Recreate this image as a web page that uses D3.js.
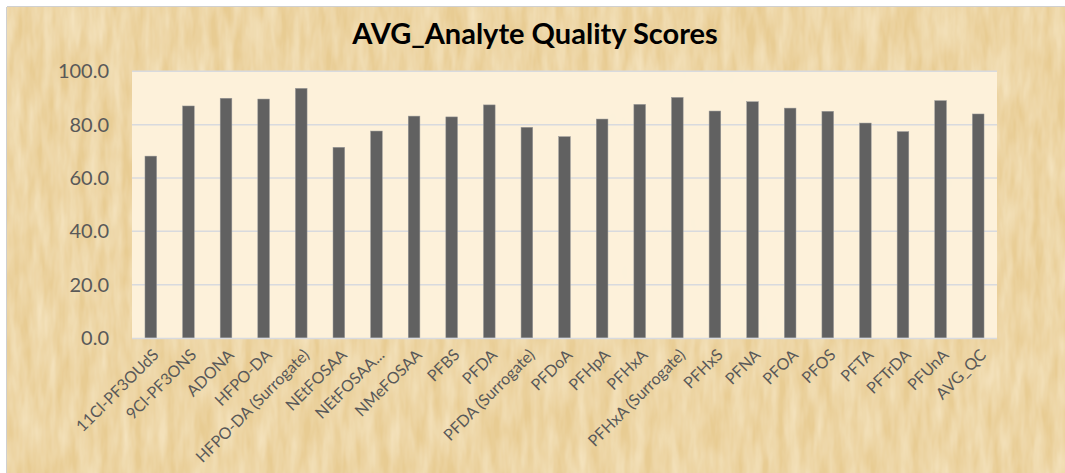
<!DOCTYPE html>
<html><head><meta charset="utf-8">
<script src="https://cdn.jsdelivr.net/npm/d3@7"></script>
<style>body{margin:0;background:#fff;}svg{display:block;}</style>
</head><body>
<script>
const categories = ["11Cl-PF3OUdS","9Cl-PF3ONS","ADONA","HFPO-DA","HFPO-DA (Surrogate)","NEtFOSAA","NEtFOSAA...","NMeFOSAA","PFBS","PFDA","PFDA (Surrogate)","PFDoA","PFHpA","PFHxA","PFHxA (Surrogate)","PFHxS","PFNA","PFOA","PFOS","PFTA","PFTrDA","PFUnA","AVG_QC"];
const scores = [68.2,87.0,89.9,89.6,93.6,71.5,77.6,83.2,82.9,87.4,79.0,75.5,82.1,87.6,90.2,85.1,88.6,86.2,85.0,80.6,77.4,89.0,84.0];
const yTicks = [0,20,40,60,80,100];
const title = "AVG_Analyte Quality Scores";

const W = 1065, H = 473;
const m = {left:132, right:68, top:71.3, bottom:135};
const svg = d3.select("body").append("svg").attr("width",W).attr("height",H);
const defs = svg.append("defs");

const f = defs.append("filter").attr("id","papyrus").attr("x",0).attr("y",0).attr("width","100%").attr("height","100%");
f.append("feTurbulence").attr("type","fractalNoise").attr("baseFrequency","0.09 0.02").attr("numOctaves",3).attr("seed",4).attr("result","n");
f.append("feColorMatrix").attr("in","n").attr("type","matrix")
 .attr("values","0 0 0 0 0.94  0 0 0 0 0.82  0 0 0 0 0.58  0 0 0 -1.1 0.85").attr("result","c");
f.append("feComposite").attr("in","c").attr("in2","SourceGraphic").attr("operator","over");

const f2 = defs.append("filter").attr("id","paper").attr("x",0).attr("y",0).attr("width","100%").attr("height","100%");
f2.append("feTurbulence").attr("type","fractalNoise").attr("baseFrequency","0.05 0.02").attr("numOctaves",2).attr("seed",9).attr("result","n");
f2.append("feColorMatrix").attr("in","n").attr("type","matrix")
 .attr("values","0 0 0 0 0.97  0 0 0 0 0.88  0 0 0 0 0.70  0 0 0 -0.7 0.45").attr("result","c");
f2.append("feComposite").attr("in","c").attr("in2","SourceGraphic").attr("operator","over");

// outer chart area
svg.append("rect").attr("x",7).attr("y",7).attr("width",W-7).attr("height",H-7)
  .attr("fill","#e8cc93").attr("filter","url(#papyrus)");
svg.append("line").attr("x1",6.5).attr("x2",6.5).attr("y1",7).attr("y2",H).attr("stroke","#d0d0d0");
svg.append("line").attr("x1",7).attr("x2",W).attr("y1",6.5).attr("y2",6.5).attr("stroke","#d0d0d0");

const x = d3.scaleBand().domain(categories).range([m.left, W-m.right]).paddingInner(0.69).paddingOuter(0.345);
const y = d3.scaleLinear().domain([0,100]).range([H-m.bottom, m.top]);

// plot area
svg.append("rect").attr("x",m.left).attr("y",y(100)).attr("width",W-m.right-m.left).attr("height",y(0)-y(100))
  .attr("fill","#fdf1da").attr("filter","url(#paper)");

// gridlines
svg.append("g").selectAll("line").data(yTicks.filter(d=>d>0)).join("line")
  .attr("x1",m.left).attr("x2",W-m.right).attr("y1",d=>y(d)).attr("y2",d=>y(d))
  .attr("stroke","#d8dade").attr("stroke-width",1.5);

// bars
svg.append("g").selectAll("rect").data(scores).join("rect")
  .attr("x",(d,i)=>x(categories[i])).attr("width",x.bandwidth())
  .attr("y",d=>y(d)).attr("height",d=>y(0)-y(d))
  .attr("fill","#616161").attr("stroke","#9a9a9a").attr("stroke-width",0.5);

// x axis line
svg.append("line").attr("x1",m.left).attr("x2",W-m.right).attr("y1",y(0)+0.5).attr("y2",y(0)+0.5)
  .attr("stroke","#d8dade").attr("stroke-width",1.5);

// y axis
const ya = svg.append("g").attr("transform",`translate(${m.left},0)`)
  .call(d3.axisLeft(y).tickValues(yTicks).tickFormat(d3.format(".1f")).tickSize(0).tickPadding(23));
ya.select(".domain").remove();
ya.selectAll("text").attr("fill","#595959").attr("font-family","Lato, 'Open Sans', sans-serif").attr("font-size",20);

// x axis labels
const xa = svg.append("g").attr("transform",`translate(0,${y(0)})`)
  .call(d3.axisBottom(x).tickSize(0).tickPadding(0));
xa.select(".domain").remove();
xa.selectAll("text").attr("fill","#595959").attr("font-family","Lato, 'Open Sans', sans-serif").attr("font-size",16)
  .attr("text-anchor","end").attr("dy","0.35em")
  .attr("transform","translate(5,14) rotate(-45)");

// title
svg.append("text").attr("x",535).attr("y",44).attr("text-anchor","middle")
  .attr("font-family","Lato, 'Open Sans', sans-serif").attr("font-weight","bold").attr("font-size",29)
  .attr("fill","#000").text(title);
</script>
</body></html>
